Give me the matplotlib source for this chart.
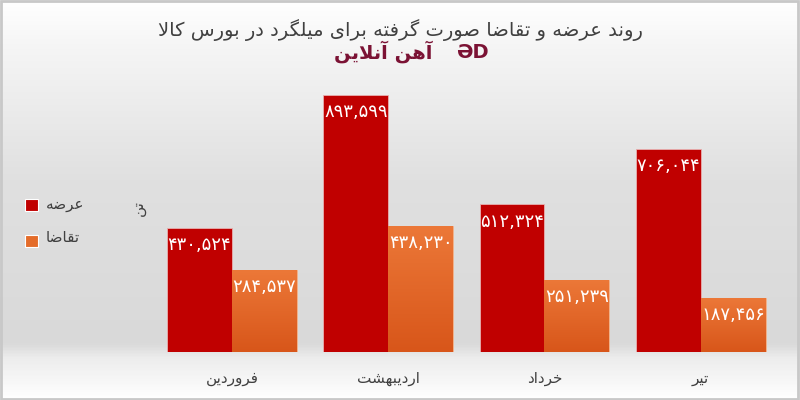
"""
Supply / demand bar chart (Persian labels)
"""

import matplotlib
matplotlib.use("Agg")
import matplotlib.pyplot as plt
from matplotlib.colors import LinearSegmentedColormap
from matplotlib.patches import Rectangle
import numpy as np

plt.rcParams["font.family"] = ["DejaVu Sans"]

title = "روند عرضه و تقاضا صورت گرفته برای میلگرد در بورس کالا"
brand = "آهن آنلاین"
unit = "تن"
months = ["فروردین", "اردیبهشت", "خرداد", "تیر"]
series_names = ["عرضه", "تقاضا"]
supply = [430524, 893599, 512324, 706044]
demand = [284537, 438230, 251239, 187456]

# presentation forms: isolated, final, initial, medial
FORMS = {
    "ا": ("\uFE8D", "\uFE8E", None, None),
    "آ": ("\uFE81", "\uFE82", None, None),
    "ب": ("\uFE8F", "\uFE90", "\uFE91", "\uFE92"),
    "پ": ("\uFB56", "\uFB57", "\uFB58", "\uFB59"),
    "ت": ("\uFE95", "\uFE96", "\uFE97", "\uFE98"),
    "ث": ("\uFE99", "\uFE9A", "\uFE9B", "\uFE9C"),
    "ج": ("\uFE9D", "\uFE9E", "\uFE9F", "\uFEA0"),
    "چ": ("\uFB7A", "\uFB7B", "\uFB7C", "\uFB7D"),
    "ح": ("\uFEA1", "\uFEA2", "\uFEA3", "\uFEA4"),
    "خ": ("\uFEA5", "\uFEA6", "\uFEA7", "\uFEA8"),
    "د": ("\uFEA9", "\uFEAA", None, None),
    "ذ": ("\uFEAB", "\uFEAC", None, None),
    "ر": ("\uFEAD", "\uFEAE", None, None),
    "ز": ("\uFEAF", "\uFEB0", None, None),
    "ژ": ("\uFB8A", "\uFB8B", None, None),
    "س": ("\uFEB1", "\uFEB2", "\uFEB3", "\uFEB4"),
    "ش": ("\uFEB5", "\uFEB6", "\uFEB7", "\uFEB8"),
    "ص": ("\uFEB9", "\uFEBA", "\uFEBB", "\uFEBC"),
    "ض": ("\uFEBD", "\uFEBE", "\uFEBF", "\uFEC0"),
    "ط": ("\uFEC1", "\uFEC2", "\uFEC3", "\uFEC4"),
    "ظ": ("\uFEC5", "\uFEC6", "\uFEC7", "\uFEC8"),
    "ع": ("\uFEC9", "\uFECA", "\uFECB", "\uFECC"),
    "غ": ("\uFECD", "\uFECE", "\uFECF", "\uFED0"),
    "ف": ("\uFED1", "\uFED2", "\uFED3", "\uFED4"),
    "ق": ("\uFED5", "\uFED6", "\uFED7", "\uFED8"),
    "ک": ("\uFB8E", "\uFB8F", "\uFB90", "\uFB91"),
    "گ": ("\uFB92", "\uFB93", "\uFB94", "\uFB95"),
    "ل": ("\uFEDD", "\uFEDE", "\uFEDF", "\uFEE0"),
    "م": ("\uFEE1", "\uFEE2", "\uFEE3", "\uFEE4"),
    "ن": ("\uFEE5", "\uFEE6", "\uFEE7", "\uFEE8"),
    "ه": ("\uFEE9", "\uFEEA", "\uFEEB", "\uFEEC"),
    "و": ("\uFEED", "\uFEEE", None, None),
    "ی": ("\uFBFC", "\uFBFD", "\uFBFE", "\uFBFF"),
}
LAM_ALEF = {"ا": ("\uFEFB", "\uFEFC"), "آ": ("\uFEF5", "\uFEF6")}


def dual(c):
    return c in FORMS and FORMS[c][2] is not None


def shape(text):
    out = []
    i, n = 0, len(text)
    while i < n:
        c = text[i]
        if c not in FORMS:
            out.append(c)
            i += 1
            continue
        join_prev = i > 0 and dual(text[i - 1])
        if c == "ل" and i + 1 < n and text[i + 1] in LAM_ALEF:
            lig = LAM_ALEF[text[i + 1]]
            out.append(lig[1] if join_prev else lig[0])
            i += 2
            continue
        join_next = dual(c) and i + 1 < n and text[i + 1] in FORMS
        iso, fin, ini, med = FORMS[c]
        if join_prev and join_next:
            out.append(med)
        elif join_prev:
            out.append(fin)
        elif join_next:
            out.append(ini)
        else:
            out.append(iso)
        i += 1
    return "".join(reversed(out))


def fa_num(v):
    return f"{v:,}".translate(str.maketrans("0123456789", "۰۱۲۳۴۵۶۷۸۹"))


fig = plt.figure(figsize=(8, 4), dpi=100)

# background gradient + frame
bg = fig.add_axes([0, 0, 1, 1], zorder=-5)
bg_cmap = LinearSegmentedColormap.from_list(
    "bg", [(0, "#ffffff"), (0.12, "#f5f5f5"), (0.45, "#e0e0e0"), (0.86, "#d9d9d9"),
           (0.9, "#ededed"), (1, "#ffffff")])
bg.imshow(np.linspace(0, 1, 400).reshape(-1, 1), cmap=bg_cmap, aspect="auto",
          extent=[0, 1, 0, 1], origin="upper")
bg.add_patch(Rectangle((0.001, 0.002), 0.997, 0.995, fill=False, ec="#c8c8c8", lw=2))
bg.set_xlim(0, 1)
bg.set_ylim(0, 1)
bg.axis("off")

ax = fig.add_axes([0.1825, 0.12, 0.791, 0.68])
ax.patch.set_alpha(0)
x = np.arange(len(months))
w = 0.415

b1 = ax.bar(x - w / 2, supply, w, color="#c00000", edgecolor="#e8b0b0", lw=0.6, zorder=2)
b2 = ax.bar(x + w / 2, demand, w, color="#e46c2a", edgecolor="#f3b48d", lw=0.6, zorder=2)

orange_cmap = LinearSegmentedColormap.from_list("or", ["#d8561a", "#ec7838"])
for r in b2:
    im = ax.imshow(np.linspace(0, 1, 100).reshape(-1, 1), cmap=orange_cmap, aspect="auto",
                   extent=[r.get_x(), r.get_x() + r.get_width(), 0, r.get_height()],
                   origin="lower", zorder=2.5)
    im.set_clip_path(r)

for bars, vals in ((b1, supply), (b2, demand)):
    for r, v in zip(bars, vals):
        ax.text(r.get_x() + r.get_width() / 2, v - 60000, fa_num(v), ha="center", va="center",
                color="white", fontsize=13, zorder=4, clip_on=False)

ax.set_xlim(-0.55, 3.5)
ax.set_ylim(0, 944000)
ax.set_xticks(x)
ax.set_xticklabels([shape(m) for m in months], fontsize=11, color="#404040")
ax.tick_params(axis="x", length=0, pad=14)
ax.set_yticks([])
for s in ax.spines.values():
    s.set_visible(False)

# legend
fig.patches.append(Rectangle((25 / 800, 1 - 211 / 400), 13 / 800, 12 / 400,
                             transform=fig.transFigure, fc="#c00000", ec="white", lw=0.8))
fig.patches.append(Rectangle((25 / 800, 1 - 247 / 400), 13 / 800, 12 / 400,
                             transform=fig.transFigure, fc="#e46c2a", ec="white", lw=0.8))
fig.text(46 / 800, 1 - 204 / 400, shape(series_names[0]), fontsize=11, color="#404040",
         va="center", ha="left")
fig.text(46 / 800, 1 - 238 / 400, shape(series_names[1]), fontsize=11, color="#404040",
         va="center", ha="left")
fig.text(138 / 800, 1 - 208 / 400, shape(unit), rotation=90, fontsize=11, color="#404040",
         va="center", ha="center")

fig.text(0.5, 1 - 30 / 400, shape(title), fontsize=14, color="#404040", ha="center", va="center")
fig.text(383 / 800, 1 - 52 / 400, shape(brand), fontsize=14, color="#7b1234", ha="center",
         va="center", fontweight="bold")
fig.text(472 / 800, 1 - 52 / 400, "ƏD", fontsize=14, color="#7b1234", ha="center",
         va="center", fontweight="bold")

fig.savefig("out.png", dpi=100)
